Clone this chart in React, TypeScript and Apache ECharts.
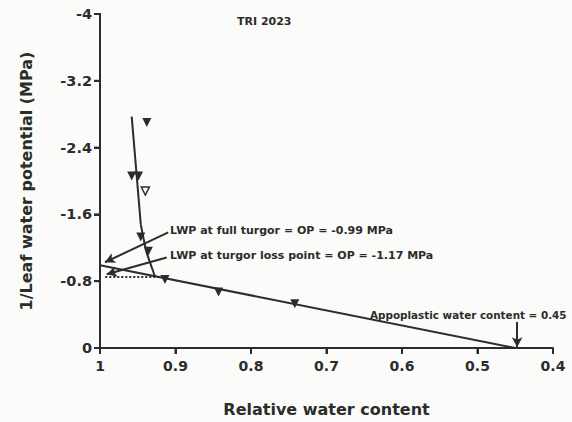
import React, { useEffect, useRef } from "react";
import * as echarts from "echarts";

// Observed points (relative water content, 1/leaf water potential)
const filledPoints: [number, number][] = [
  [0.938, -2.7],
  [0.958, -2.06],
  [0.949, -2.06],
  [0.946, -1.33],
  [0.936, -1.16],
  [0.914, -0.82],
  [0.843, -0.67],
  [0.742, -0.53],
];
const hollowPoints: [number, number][] = [[0.94, -1.88]];

// Fitted lines
const steepLine: [number, number][] = [
  [0.958, -2.77],
  [0.946, -1.48],
  [0.939, -1.16],
  [0.927, -0.85],
];
const linearLine: [number, number][] = [
  [1.0, -0.99],
  [0.45, 0],
];
const turgorLossLine: [number, number][] = [
  [0.993, -0.85],
  [0.915, -0.85],
];

// Annotation arrows [from, to]
const arrows: [[number, number], [number, number]][] = [
  [[0.9096, -1.385], [0.9934, -1.027]],
  [[0.9117, -1.083], [0.9911, -0.884]],
  [[0.4475, -0.31], [0.4475, -0.01]],
];

// Axis tick values
const xTicks = [1, 0.9, 0.8, 0.7, 0.6, 0.5, 0.4];
const yTicks = [-4, -3.2, -2.4, -1.6, -0.8, 0];

const title = "TRI 2023";
const noteFull = "LWP at full turgor = OP = -0.99 MPa";
const noteLoss = "LWP at turgor loss point = OP = -1.17 MPa";
const noteApo = "Appoplastic water content = 0.45";

const INK = "#2a2d2a";
const FONT = "DejaVu Sans";

function segments(line: [number, number][], style: any) {
  const out: any[] = [];
  for (let i = 0; i < line.length - 1; i++) {
    out.push([
      { coord: line[i], symbol: "none", lineStyle: style },
      { coord: line[i + 1], symbol: "none", lineStyle: style },
    ]);
  }
  return out;
}

export default function App() {
  const ref = useRef<HTMLDivElement>(null);
  useEffect(() => {
    if (!ref.current) return;
    const chart = echarts.init(ref.current, undefined, { renderer: "svg" });
    const textStyle = (size: number) => ({
      fill: INK,
      fontFamily: FONT,
      fontWeight: "bold" as const,
      fontSize: size,
      verticalAlign: "middle" as const,
    });
    const axisCommon = {
      axisLine: { show: true, onZero: false, lineStyle: { color: INK, width: 2 } },
      axisTick: { show: true, length: 6, lineStyle: { color: INK, width: 2 } },
      splitLine: { show: false },
      nameLocation: "middle",
      nameTextStyle: { color: INK, fontFamily: FONT, fontWeight: "bold", fontSize: 16 },
    };
    const solid = { color: INK, width: 2, type: "solid" };
    const dotted = { color: INK, width: 2, type: "dotted" };
    chart.setOption({
      animation: false,
      backgroundColor: "#fbfbfa",
      grid: { left: 100, right: 19, top: 14, bottom: 73, containLabel: false },
      xAxis: {
        ...axisCommon,
        type: "value",
        min: 0.4,
        max: 1,
        interval: 0.1,
        inverse: true,
        name: "Relative water content",
        nameGap: 53,
        axisLabel: { color: INK, fontFamily: FONT, fontWeight: "bold", fontSize: 14, margin: 11 },
      },
      yAxis: {
        ...axisCommon,
        type: "value",
        min: -4,
        max: 0,
        interval: 0.8,
        inverse: true,
        name: "1/Leaf water potential (MPa)",
        nameGap: 66,
        axisLabel: { color: INK, fontFamily: FONT, fontWeight: "bold", fontSize: 14.5, margin: 8 },
      },
      series: [
        {
          type: "scatter",
          data: filledPoints,
          symbol: "triangle",
          symbolRotate: 180,
          symbolSize: 9,
          clip: false,
          itemStyle: { color: INK, opacity: 1 },
          z: 3,
          markLine: {
            silent: true,
            symbol: ["none", "arrow"],
            symbolSize: [8, 10],
            label: { show: false },
            lineStyle: solid,
            z: 2,
            data: arrows.map(([a, b]) => [{ coord: a }, { coord: b }]),
          },
        },
        {
          type: "scatter",
          data: hollowPoints,
          symbol: "triangle",
          symbolRotate: 180,
          symbolSize: 8,
          clip: false,
          itemStyle: { color: "#ffffff", borderColor: INK, borderWidth: 1.5, opacity: 1 },
          z: 3,
          markLine: {
            silent: true,
            symbol: ["none", "none"],
            label: { show: false },
            lineStyle: solid,
            z: 2,
            data: [
              ...segments(steepLine, solid),
              ...segments(linearLine, solid),
              ...segments(turgorLossLine, dotted),
            ],
          },
        },
      ],
    });

    // Axis frame drawn from the chart's own scales (pixel positions via convertToPixel)
    const px = (p: [number, number]) =>
      chart.convertToPixel({ gridIndex: 0 }, p) as number[];
    const frameStyle = { stroke: INK, lineWidth: 2 };
    const yTop = px([1, -4]);
    const yBottom = px([1, 0]);
    const frame: any[] = [
      {
        type: "line",
        z: 10,
        shape: { x1: yTop[0], y1: yTop[1] - 1, x2: yBottom[0], y2: yBottom[1] + 3 },
        style: frameStyle,
      },
    ];
    yTicks.forEach((v) => {
      const p = px([1, v]);
      frame.push({
        type: "line",
        z: 10,
        shape: { x1: p[0] - 6, y1: p[1], x2: p[0], y2: p[1] },
        style: frameStyle,
      });
    });
    xTicks.forEach((v) => {
      const p = px([v, 0]);
      frame.push({
        type: "line",
        z: 10,
        shape: { x1: p[0], y1: p[1], x2: p[0], y2: p[1] + 6 },
        style: frameStyle,
      });
    });

    chart.setOption({
      graphic: [
        { type: "text", left: 237, top: 16, style: { ...textStyle(11), text: title } },
        { type: "text", x: 170, y: 230, style: { ...textStyle(11), text: noteFull } },
        { type: "text", x: 170, y: 255, style: { ...textStyle(11), text: noteLoss } },
        { type: "text", x: 370, y: 315, style: { ...textStyle(10.4), text: noteApo } },
        ...frame,
      ],
    });
    return () => chart.dispose();
  }, []);
  return (
    <div
      ref={ref}
      style={{ position: "fixed", left: 0, top: 0, width: 572, height: 422 }}
    />
  );
}
